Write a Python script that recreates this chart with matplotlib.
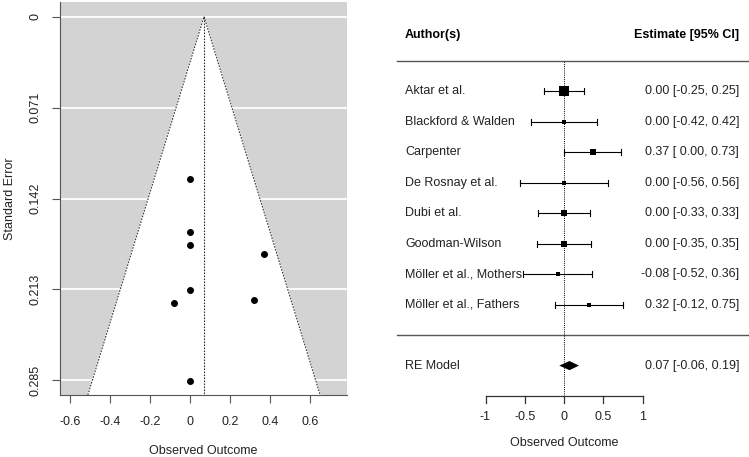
import matplotlib
matplotlib.use("Agg")
import matplotlib.pyplot as plt
import numpy as np

plt.rcParams['font.family'] = ['Liberation Sans', 'DejaVu Sans']
plt.rcParams['axes.unicode_minus'] = False

# study data
authors = ["Aktar et al.", "Blackford & Walden", "Carpenter", "De Rosnay et al.",
           "Dubi et al.", "Goodman-Wilson", "Möller et al., Mothers", "Möller et al., Fathers"]
estimates = [0.00, 0.00, 0.37, 0.00, 0.00, 0.00, -0.08, 0.32]
ci_low = [-0.25, -0.42, 0.00, -0.56, -0.33, -0.35, -0.52, -0.12]
ci_high = [0.25, 0.42, 0.73, 0.56, 0.33, 0.35, 0.36, 0.75]

# pooled random-effects model
re_est = 0.07
re_low = -0.06
re_high = 0.19

funnel_xticks = [-0.6, -0.4, -0.2, 0, 0.2, 0.4, 0.6]
funnel_se_max = 0.285
funnel_yticklabels = ["0", "0.071", "0.142", "0.213", "0.285"]
forest_xticks = [-1, -0.5, 0, 0.5, 1]
forest_xticklabels = ["-1", "-0.5", "0", "0.5", "1"]

yi = np.array(estimates)
lo = np.array(ci_low)
hi = np.array(ci_high)
sei = (hi - lo) / (2 * 1.96)
wi = 1 / sei ** 2
k = len(yi)

FS = 9
W, H = 749, 457
fig = plt.figure(figsize=(W / 100, H / 100), dpi=100)

# ---------------- funnel plot ----------------
ax = fig.add_axes([60 / W, 1 - 395 / H, 287 / W, 393 / H])
max_se = funnel_se_max
ytop, ybot = -0.04 * max_se, max_se * 1.04
ax.set_facecolor('#d3d3d3')
yt = np.linspace(0, max_se, len(funnel_yticklabels))
for y in yt:
    ax.axhline(y, color='white', lw=1.3, zorder=1)
# white funnel region
tri_x = [re_est - 1.96 * ybot, re_est, re_est + 1.96 * ybot]
tri_y = [ybot, 0, ybot]
ax.fill(tri_x, tri_y, color='white', zorder=2)
ax.plot(tri_x, tri_y, color='#333333', ls=(0, (1.5, 1.2)), lw=0.8, zorder=3)
ax.plot([re_est, re_est], [0, ybot], color='#333333', ls=(0, (1.5, 1.2)), lw=0.8, zorder=3)
ax.plot(yi, sei, 'o', color='black', ms=4, zorder=4)
ax.set_xlim(-0.65, 0.785)
ax.set_ylim(ybot, ytop)
ax.set_yticks(yt)
ax.set_yticklabels(funnel_yticklabels, rotation=90, va='center')
ax.set_xticks(funnel_xticks)
ax.set_xticklabels([f"{v:g}" for v in funnel_xticks])
for s in ['top', 'right']:
    ax.spines[s].set_visible(False)
for s in ['left', 'bottom']:
    ax.spines[s].set_color('#555555')
ax.tick_params(axis='both', colors='#555555', labelcolor='#222222', labelsize=FS, length=6)
ax.tick_params(axis='x', pad=9)
ax.tick_params(axis='y', pad=7)
ax.set_xlabel("Observed Outcome", fontsize=FS, color='#222222', labelpad=12)
ax.set_ylabel("Standard Error", fontsize=FS, color='#222222', labelpad=10)

# ---------------- forest plot ----------------
fx = fig.add_axes([380 / W, 0, 369 / W, 1])
fx.set_xlim((380 - 564) / 78.5, (749 - 564) / 78.5)
fx.set_ylim(-4, 11)
fx.axis('off')

rows = np.arange(k, 0, -1)
rng = wi.max() - wi.min()
psize = (wi - wi.min()) / rng + 0.5

trans = fx.get_yaxis_transform()
fx.text(0.068, 9.85, "Author(s)", transform=trans, fontsize=FS, fontweight='bold', va='center', ha='left')
fx.text(0.973, 9.85, "Estimate [95% CI]", transform=trans, fontsize=FS, fontweight='bold', va='center', ha='right')
fx.plot([0.046, 1.0], [9, 9], transform=trans, color='#555555', lw=1)
fx.plot([0.046, 1.0], [0, 0], transform=trans, color='#555555', lw=1)
fx.plot([0, 0], [-2, 9], color='black', ls=(0, (1, 1.2)), lw=0.7)

for r, name, y, l, h, ps in zip(rows, authors, yi, lo, hi, psize):
    fx.plot([l, h], [r, r], color='black', lw=0.8)
    fx.plot([l, l], [r - 0.1, r + 0.1], color='black', lw=0.8)
    fx.plot([h, h], [r - 0.1, r + 0.1], color='black', lw=0.8)
    fx.plot(y, r, 's', color='black', ms=ps * 4.4, mew=0)
    fx.text(0.068, r, name, transform=trans, fontsize=FS, va='center', ha='left', color='#222222')
    lab = f"{y:.2f} [{l:5.2f}, {h:.2f}]"
    fx.text(0.973, r, lab, transform=trans, fontsize=FS, va='center', ha='right', color='#222222')

fx.fill([re_low, re_est, re_high, re_est], [-1, -1 + 0.15, -1, -1 - 0.15], color='black', lw=0)
fx.text(0.068, -1, "RE Model", transform=trans, fontsize=FS, va='center', ha='left', color='#222222')
fx.text(0.973, -1, f"{re_est:.2f} [{re_low:5.2f}, {re_high:.2f}]", transform=trans,
        fontsize=FS, va='center', ha='right', color='#222222')

# forest x axis
fx.plot([forest_xticks[0], forest_xticks[-1]], [-2, -2], color='#333333', lw=0.9)
for t, tl in zip(forest_xticks, forest_xticklabels):
    fx.plot([t, t], [-2, -2.22], color='#333333', lw=0.9)
    fx.text(t, -2.68, tl, fontsize=FS, ha='center', va='center', color='#222222')
fx.text(0, -3.55, "Observed Outcome", fontsize=FS, ha='center', va='center', color='#222222')

fig.savefig("out.png", dpi=100)
